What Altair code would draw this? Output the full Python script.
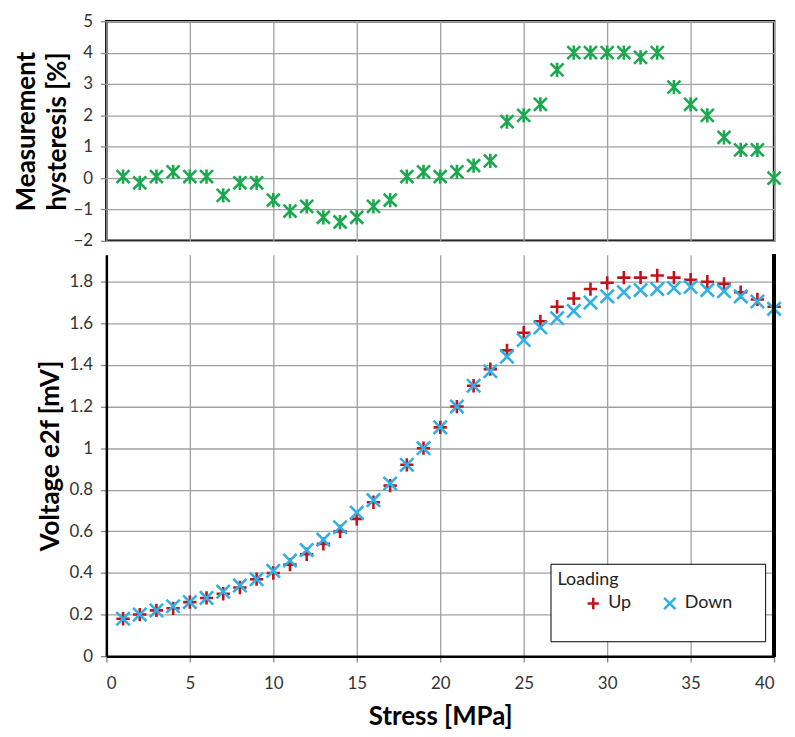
import altair as alt
import pandas as pd

stress = list(range(1, 41))
hysteresis = [0.05, -0.15, 0.05, 0.2, 0.05, 0.05, -0.55, -0.15, -0.15, -0.7,
              -1.05, -0.9, -1.25, -1.4, -1.25, -0.9, -0.7, 0.05, 0.2, 0.05,
              0.2, 0.4, 0.55, 1.8, 2.0, 2.35, 3.45, 4.0, 4.0, 4.0,
              4.0, 3.85, 4.0, 2.9, 2.35, 2.0, 1.3, 0.9, 0.9, 0.0]
up = [0.18, 0.20, 0.22, 0.23, 0.26, 0.28, 0.30, 0.33, 0.37, 0.40,
      0.44, 0.49, 0.54, 0.60, 0.66, 0.74, 0.82, 0.92, 1.00, 1.10,
      1.20, 1.30, 1.38, 1.47, 1.555, 1.61, 1.68, 1.72, 1.765, 1.795,
      1.82, 1.82, 1.83, 1.82, 1.81, 1.80, 1.79, 1.75, 1.715, 1.68]
down = [0.18, 0.20, 0.22, 0.24, 0.26, 0.28, 0.31, 0.34, 0.37, 0.41,
        0.46, 0.51, 0.56, 0.62, 0.69, 0.75, 0.83, 0.92, 1.00, 1.10,
        1.20, 1.30, 1.37, 1.44, 1.52, 1.58, 1.625, 1.66, 1.70, 1.73,
        1.75, 1.76, 1.765, 1.77, 1.775, 1.76, 1.755, 1.73, 1.705, 1.67]
loading = ["Up", "Down"]
x_ticks = [0, 5, 10, 15, 20, 25, 30, 35, 40]
hyst_ticks = [-2, -1, 0, 1, 2, 3, 4, 5]
volt_ticks = [0, 0.2, 0.4, 0.6, 0.8, 1.0, 1.2, 1.4, 1.6, 1.8]

GREEN = "#1BA84F"
RED = "#C0141C"
BLUE = "#2FB0E6"
FONT = "Lato"

STAR = "M-1,-1L1,1M-1,1L1,-1M0,-1.1L0,1.1"
PLUS = "M-1,0L1,0M0,-1L0,1"
XMARK = "M-1,-1L1,1M-1,1L1,-1"

hyst_df = pd.DataFrame({"stress": stress, "hyst": hysteresis})
volt_df = pd.concat([
    pd.DataFrame({"stress": stress, "voltage": up, "loading": "Up", "k": 0}),
    pd.DataFrame({"stress": stress, "voltage": down, "loading": "Down", "k": 1}),
], ignore_index=True)

xscale = alt.Scale(domain=[0, 40], nice=False, zero=False)

top = alt.Chart(hyst_df).mark_point(
    shape=STAR, filled=False, color=GREEN, strokeWidth=2.6, size=170, opacity=1
).encode(
    x=alt.X("stress:Q", scale=xscale,
            axis=alt.Axis(values=x_ticks, labels=False, ticks=False, domain=False,
                          title=None, grid=True, minExtent=0, maxExtent=0,
                          labelPadding=0)),
    y=alt.Y("hyst:Q", scale=alt.Scale(domain=[-2, 5], nice=False, zero=False),
            axis=alt.Axis(values=hyst_ticks, title=["Measurement", "hysteresis [%]"],
                          titlePadding=2, titleLineHeight=32, domain=False)),
).properties(width=672, height=221,
             view=alt.ViewBackground(stroke="black", strokeWidth=2.5))

legend = alt.Legend(
    title="Loading", orient="none", legendX=447, legendY=311, direction="horizontal",
    strokeColor="black", fillColor="white", padding=7, titleFontWeight="normal",
    titleFontSize=18, labelFontSize=18, symbolSize=130, symbolStrokeWidth=2.6,
    columnPadding=2, symbolOffset=27, clipHeight=62, titlePadding=-16,
    labelOffset=6,
    labelExpr="datum.label == 'Down' ? 'Down\u2800\u2800' : datum.label",
)

points = alt.Chart(volt_df).mark_point(
    filled=False, strokeWidth=2.6, size=180, opacity=1
).encode(
    x=alt.X("stress:Q", scale=xscale,
            axis=alt.Axis(values=x_ticks, title="Stress [MPa]",
                          labelPadding=14, titlePadding=12)),
    y=alt.Y("voltage:Q", scale=alt.Scale(domain=[0, 1.93], nice=False),
            axis=alt.Axis(values=volt_ticks, title="Voltage e2f [mV]",
                          labelExpr="format(datum.value, '~g')", titlePadding=5)),
    shape=alt.Shape("loading:N", scale=alt.Scale(domain=loading, range=[PLUS, XMARK]),
                    legend=legend),
    color=alt.Color("loading:N", scale=alt.Scale(domain=loading, range=[RED, BLUE]),
                    legend=legend),
    order=alt.Order("k:Q"),
)

right_edge = alt.Chart(volt_df).mark_rule(color="black", strokeWidth=2.5).encode(
    x=alt.datum(40)
)

bottom = alt.layer(points, right_edge).properties(width=672, height=404)

chart = alt.vconcat(top, bottom, spacing=14, bounds="flush").resolve_legend(
    color="independent", shape="independent"
).configure(
    padding={"left": 4, "top": 0, "right": 0, "bottom": 0},
    font=FONT,
).configure_view(
    stroke=None
).configure_axis(
    labelFont=FONT, labelFontSize=17, labelColor="#333333", labelPadding=8,
    titleFont=FONT, titleFontSize=26, titleFontWeight="bold", titleColor="black",
    gridColor="#a0a0a0", gridWidth=1.3, gridOpacity=1, tickSize=6,
    domainColor="black", domainWidth=2.5, tickColor="#888888", tickWidth=1.3,
).configure_legend(
    labelFont=FONT, titleFont=FONT, labelColor="#222222", titleColor="#222222",
)

chart.save("out.html", embed_options={"renderer": "svg", "actions": False})
